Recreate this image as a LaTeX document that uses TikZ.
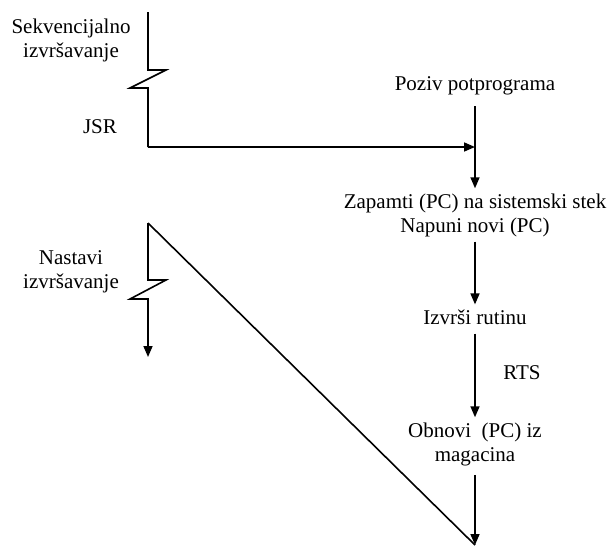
\documentclass[tikz,border=0pt]{standalone}
\usepackage{fontspec}
\setmainfont{Liberation Serif}
\usetikzlibrary{arrows.meta, calc}
\definecolor{ink}{HTML}{000000}
\tikzset{
  lbl/.style={align=center, inner sep=5pt, font=\fontsize{21}{24}\selectfont, text=ink},
  ln/.style={line width=1.6pt, draw=ink},
  fl/.style={-{Triangle[length=11pt, width=9pt]}, line width=1.6pt, draw=ink},
}
\begin{document}
\begin{tikzpicture}[x=1pt, y=-1pt]
  \useasboundingbox (0,0) rectangle (609,547);
  \node[lbl] (seq) at (71,40) {Sekvencijalno\\izvršavanje};
  \node[lbl] (jsr) at (100,127) {JSR};
  \node[lbl] (nast) at (71,272) {Nastavi\\izvršavanje};
  \node[lbl] (poziv) at (475,86) {Poziv potprograma};
  \node[lbl] (zap) at (475,215) {Zapamti (PC) na sistemski stek\\Napuni novi (PC)};
  \node[lbl] (izv) at (475,317) {Izvrši rutinu};
  \node[lbl] (rts) at (522,373) {RTS};
  \node[lbl] (obn) at (475,444) {Obnovi~ (PC) iz\\magacina};
  % program on the left
  \coordinate (s0) at (148,12);
  \coordinate (s1) at (148,147);
  \coordinate (n0) at (148,223);
  \coordinate (n1) at (148,357);
  \coordinate (call) at (poziv.south |- s1);
  \coordinate (back) at (475,545);
  \draw[ln] (s0) -- (148,70) -- (166,70) -- (130,88) -- (148,88) -- (s1);
  \draw[fl] (s1) -- (call);
  \draw[fl] (n0) -- (148,280) -- (166,280) -- (130,299) -- (148,299) -- (n1);
  \draw[ln] (n0) -- (back);
  % subroutine
  \draw[fl, shorten <=6pt] (poziv) -- (zap);
  \draw[fl] (zap) -- (izv);
  \draw[fl, shorten <=4pt] (izv) -- (obn);
  \draw[fl, shorten <=4pt] (obn) -- (back);
\end{tikzpicture}
\end{document}
